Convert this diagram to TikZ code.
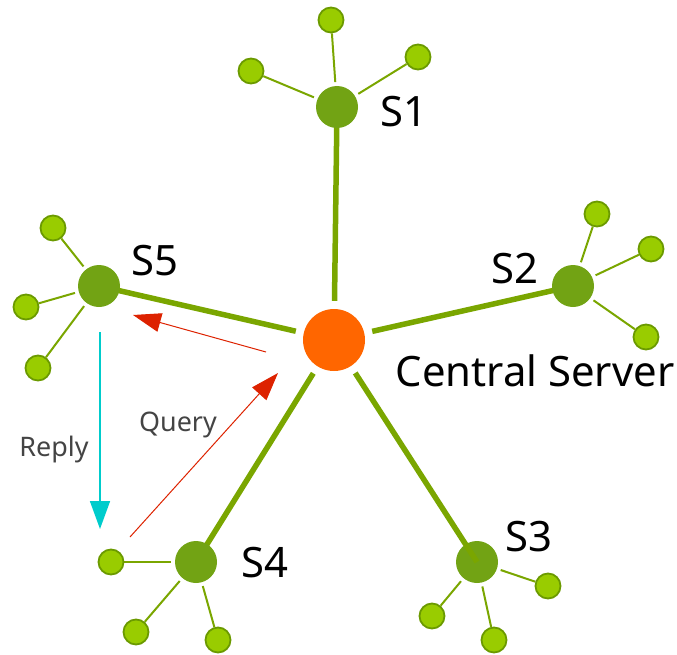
\documentclass[tikz,border=0pt]{standalone}
\usepackage{fontspec}
\setmainfont{Noto Sans}
\usetikzlibrary{arrows.meta,backgrounds}
\definecolor{leaffill}{RGB}{153,204,0}
\definecolor{leafline}{RGB}{107,154,0}
\definecolor{srvfill}{RGB}{114,163,20}
\definecolor{edgegreen}{RGB}{122,166,0}
\definecolor{central}{RGB}{255,102,0}
\definecolor{redarrow}{RGB}{221,34,0}
\definecolor{cyanarrow}{RGB}{0,204,204}
\definecolor{labelgray}{RGB}{68,68,68}
\tikzset{
  leaf/.style={circle,minimum size=25bp,inner sep=0pt,fill=leaffill,draw=leafline,line width=1.8bp},
  srv/.style={circle,minimum size=42bp,inner sep=0pt,fill=srvfill},
  hub/.style={circle,minimum size=62bp,inner sep=0pt,fill=central},
  thin edge/.style={draw=edgegreen,line width=2bp,shorten <=25bp},
  thick edge/.style={draw=edgegreen,line width=5.5bp,shorten <=8bp},
  slabel/.style={font=\fontsize{42}{46}\selectfont,text=black,inner sep=0pt},
  alabel/.style={font=\fontsize{27}{30}\selectfont,text=labelgray,inner sep=0pt},
  redarr/.style={draw=redarrow,line width=1bp,-{Triangle[length=28bp,width=19bp]},color=redarrow},
  cyanarr/.style={draw=cyanarrow!70,line width=1.6bp,-{Triangle[length=28bp,width=20bp,fill=cyanarrow]},color=cyanarrow}
}
\begin{document}
\begin{tikzpicture}[x=1bp,y=-1bp]
\useasboundingbox (0,0) rectangle (677,655);
% hub
\node[hub] (c) at (334,340) {};
% servers
\node[srv] (s1) at (337,107) {};
\node[srv] (s2) at (573,286) {};
\node[srv] (s3) at (477,562) {};
\node[srv] (s4) at (196,562) {};
\node[srv] (s5) at (99,286) {};
% leaves
\node[leaf] (l11) at (331,20) {};
\node[leaf] (l12) at (418,57) {};
\node[leaf] (l13) at (251,71) {};
\node[leaf] (l21) at (597,214) {};
\node[leaf] (l22) at (651,249) {};
\node[leaf] (l23) at (646,337) {};
\node[leaf] (l31) at (548,586) {};
\node[leaf] (l32) at (494,640) {};
\node[leaf] (l33) at (432,616) {};
\node[leaf] (l41) at (111,562) {};
\node[leaf] (l42) at (136,632) {};
\node[leaf] (l43) at (218,640) {};
\node[leaf] (l51) at (53,228) {};
\node[leaf] (l52) at (26,307) {};
\node[leaf] (l53) at (38,368) {};
\begin{scope}[on background layer]
  \draw[thick edge] (c) -- (s1.center);
  \draw[thick edge] (c) -- (s2.center);
  \draw[thick edge] (c) -- (s4.center);
  \draw[thick edge] (c) -- (s5.center);
  \foreach \s/\l in {s1/l11,s1/l12,s1/l13,s2/l21,s2/l22,s2/l23,s3/l31,s3/l32,s3/l33,s4/l41,s4/l42,s4/l43,s5/l51,s5/l52,s5/l53}
    \draw[thin edge] (\s.center) -- (\l);
\end{scope}
\draw[thick edge] (c) -- (s3.center);
% labels
\node[slabel] (t1) at (404,112) {S1};
\node[slabel] (t2) at (515,269) {S2};
\node[slabel] (t3) at (529,537) {S3};
\node[slabel] (t4) at (265,563) {S4};
\node[slabel] (t5) at (155,261) {S5};
\node[slabel] (tc) at (535,371) {Central Server};
\node[alabel] (tq) at (178,425) {Query};
\node[alabel] (tr) at (54,450) {Reply};
% arrows
\coordinate (q0) at (130,537);
\coordinate (q1) at (278,373);
\coordinate (r0) at (266,352);
\coordinate (r1) at (133,315);
\coordinate (y0) at (100,332);
\coordinate (y1) at (100,529);
\draw[redarr] (q0) -- (q1);
\draw[redarr] (r0) -- (r1);
\draw[cyanarr] (y0) -- (y1);
\end{tikzpicture}
\end{document}
